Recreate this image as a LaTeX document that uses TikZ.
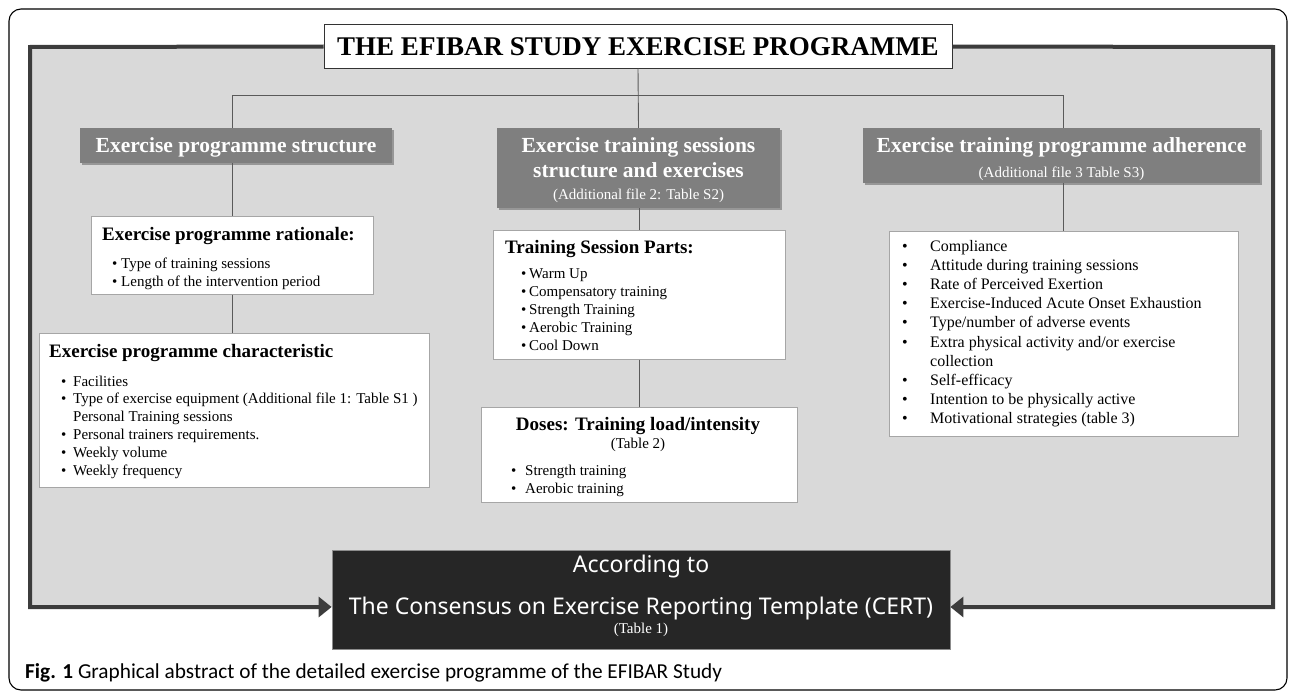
\documentclass[tikz,border=0pt]{standalone}
\usepackage{fontspec}
\setmainfont{Liberation Serif}
\newfontfamily\certfont{Noto Sans}
\newfontfamily\capfont{Carlito}
\usetikzlibrary{arrows.meta,shadows}
\definecolor{panelgray}{HTML}{D9D9D9}
\definecolor{headgray}{HTML}{7F7F7F}
\definecolor{borderdark}{HTML}{3C3C3C}
\definecolor{certdark}{HTML}{262626}
\definecolor{linegray}{HTML}{5A5A5A}
\definecolor{boxedge}{HTML}{A6A6A6}
\newcommand{\fsz}[2]{\fontsize{#1}{#2}\selectfont}
\newcommand{\bl}[1]{\makebox[#1][l]{•}}
\tikzset{
  whitebox/.style={draw=boxedge, fill=white, line width=1pt, inner sep=0pt},
  headbox/.style={fill=headgray, inner sep=0pt,
    drop shadow={shadow xshift=2pt, shadow yshift=-2pt, opacity=0.3, fill=black}},
  conn/.style={draw=linegray, line width=0.9pt},
  border/.style={draw=borderdark, line width=4pt, line join=miter},
  txt/.style={inner sep=0pt, anchor=base},
  txtw/.style={inner sep=0pt, anchor=base west},
  headtxt/.style={txt, text=white, font=\fsz{21.5}{25}\bfseries},
  headsub/.style={txt, text=white, font=\fsz{15}{18}},
  boxtitle/.style={txtw, font=\fsz{19}{22}\bfseries},
}
\begin{document}
\begin{tikzpicture}[x=1pt,y=-1pt]
\useasboundingbox (0,0) rectangle (1292,693);
% outer frame
\draw[line width=1.1pt, rounded corners=12pt] (9,9) rectangle (1287,690);
% panel
\coordinate (pTL) at (30,47);
\coordinate (pTR) at (1273,47);
\coordinate (pBL) at (30,607);
\coordinate (pBR) at (1273,607);
\coordinate (hbar) at (232,95);
\fill[panelgray] (pTL) rectangle (pBR);

% boxes
\node[whitebox, draw=black!80, minimum width=628pt, minimum height=43pt] (title) at (638,46.5) {};
\node[headbox, minimum width=312pt, minimum height=35pt] (h1) at (236,145.5) {};
\node[headbox, minimum width=283pt, minimum height=80pt] (h2) at (638.5,168) {};
\node[headbox, minimum width=397pt, minimum height=55pt] (h3) at (1061.5,155.5) {};
\node[whitebox, minimum width=282pt, minimum height=78pt] (rat) at (232,255) {};
\node[whitebox, minimum width=390pt, minimum height=154pt] (chr) at (234,410) {};
\node[whitebox, minimum width=292pt, minimum height=129pt] (tsp) at (639,294.5) {};
\node[whitebox, minimum width=316pt, minimum height=95pt] (dos) at (639,454.5) {};
\node[whitebox, minimum width=349pt, minimum height=205pt] (adh) at (1063.5,333.5) {};
\node[fill=certdark, draw=black!45, line width=0.8pt, inner sep=0pt,
      minimum width=618pt, minimum height=99pt] (cert) at (641,599.5) {};

% panel border with arrows into the CERT box
\draw[border, -{Triangle[length=13pt, width=20pt]}] (title.west) -- (pTL) -- (pBL) -- (cert.west |- pBL);
\draw[border, -{Triangle[length=13pt, width=20pt]}] (title.east) -- (pTR) -- (pBR) -- (cert.east |- pBR);

% connectors
\draw[conn] (title.south) -- (h2.north);
\draw[conn] (rat.north |- h1.north) -- (rat.north |- hbar) -- (adh.north |- hbar) -- (adh.north |- h3.north);
\draw[conn] (rat.north |- h1.south) -- (rat.north);
\draw[conn] (rat.south) -- (rat.south |- chr.north);
\draw[conn] (tsp.north |- h2.south) -- (tsp.north);
\draw[conn] (tsp.south) -- (dos.north);
\draw[conn] (adh.north |- h3.south) -- (adh.north);

% title text
\node[txt, font=\fsz{27}{31}\bfseries] (ttltxt) at (638,56) {THE EFIBAR STUDY EXERCISE PROGRAMME};

% header texts
\node[headtxt] (h1a) at (236,152) {Exercise programme structure};
\node[headtxt] (h2a) at (638.5,152) {Exercise training sessions};
\node[headtxt] (h2b) at (638.5,177) {structure and exercises};
\node[headsub] (h2c) at (638.5,199) {(Additional file 2: Table S2)};
\node[headtxt] (h3a) at (1061.5,152) {Exercise training programme adherence};
\node[headsub] (h3b) at (1061.5,177) {(Additional file 3 Table S3)};

% rationale
\node[boxtitle] (rattl) at (102,240) {Exercise programme rationale:};
\node[txtw, font=\fsz{15}{18}] (ratlist) at (112,268) {\parbox[t]{250pt}{\raggedright
  \bl{9pt}Type of training sessions\\
  \bl{9pt}Length of the intervention period}};

% characteristic
\node[txtw, font=\fsz{19}{22}\bfseries] (chrtl) at (49,357) {Exercise programme characteristic};
\node[txtw, font=\fsz{15}{17.8}] (chrlist) at (61,386) {\parbox[t]{360pt}{\raggedright
  \bl{12pt}Facilities\\
  \bl{12pt}Type of exercise equipment (Additional file 1: Table S1 )\\
  \hspace*{12pt}Personal Training sessions\\
  \bl{12pt}Personal trainers requirements.\\
  \bl{12pt}Weekly volume\\
  \bl{12pt}Weekly frequency}};

% training session parts
\node[boxtitle] (tsptl) at (505,253) {Training Session Parts:};
\node[txtw, font=\fsz{15}{18}] (tsplist) at (521,278) {\parbox[t]{250pt}{\raggedright
  \bl{8pt}Warm Up\\
  \bl{8pt}Compensatory training\\
  \bl{8pt}Strength Training\\
  \bl{8pt}Aerobic Training\\
  \bl{8pt}Cool Down}};

% doses
\node[txt, font=\fsz{19}{22}\bfseries] (dostl) at (638,430) {Doses: Training load/intensity};
\node[txt, font=\fsz{15}{18}] (dossub) at (638,448) {(Table 2)};
\node[txtw, font=\fsz{15}{18}] (doslist) at (511,475) {\parbox[t]{250pt}{\raggedright
  \bl{14pt}Strength training\\
  \bl{14pt}Aerobic training}};

% adherence list
\node[txtw, font=\fsz{16}{19.2}] (adhlist) at (902,251) {\parbox[t]{330pt}{\raggedright
  \bl{28pt}Compliance\\
  \bl{28pt}Attitude during training sessions\\
  \bl{28pt}Rate of Perceived Exertion\\
  \bl{28pt}Exercise-Induced Acute Onset Exhaustion\\
  \bl{28pt}Type/number of adverse events\\
  \bl{28pt}Extra physical activity and/or exercise\\
  \hspace*{28pt}collection\\
  \bl{28pt}Self-efficacy\\
  \bl{28pt}Intention to be physically active\\
  \bl{28pt}Motivational strategies (table 3)}};

% CERT texts
\node[txt, text=white, font=\certfont\fsz{23}{27}] (cert1) at (641,572) {According to};
\node[txt, text=white, font=\certfont\fsz{23}{27}] (cert2) at (641,614) {The Consensus on Exercise Reporting Template (CERT)};
\node[txt, text=white, font=\fsz{15}{18}] (cert3) at (641,633) {(Table 1)};

% caption
\node[txtw, font=\capfont\fsz{21.3}{25}] (caption) at (25,678) {\textbf{Fig. 1} Graphical abstract of the detailed exercise programme of the EFIBAR Study};
\end{tikzpicture}
\end{document}
